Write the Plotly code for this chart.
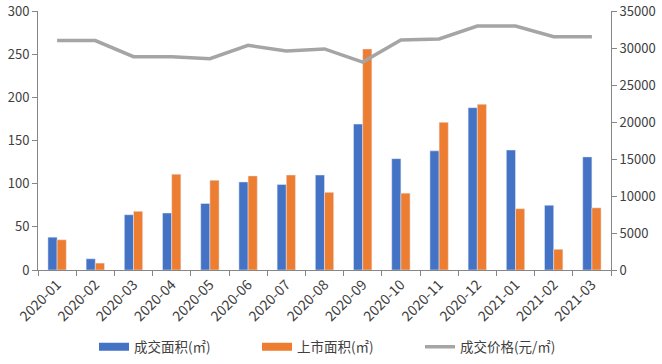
import plotly.graph_objects as go

months = ["2020-01","2020-02","2020-03","2020-04","2020-05","2020-06","2020-07","2020-08",
          "2020-09","2020-10","2020-11","2020-12","2021-01","2021-02","2021-03"]
deal_area = [38, 13, 64, 66, 77, 102, 99, 110, 169, 129, 138, 188, 139, 75, 131]
listed_area = [35, 8, 68, 111, 104, 109, 110, 90, 256, 89, 171, 192, 71, 24, 72]
price = [31000, 31000, 28830, 28830, 28560, 30360, 29600, 29870, 28100, 31080, 31220,
         32970, 32970, 31530, 31530]
names = ["成交面积(㎡)", "上市面积(㎡)", "成交价格(元/㎡)"]
colors = ["#4472C4", "#ED7D31", "#A5A5A5"]

font = "Microsoft YaHei, Noto Sans CJK SC, sans-serif"
txt = "#404040"
axc = "#868686"
W, H = 662, 364

fig = go.Figure()
fig.add_trace(go.Bar(x=months, y=deal_area, name=names[0], marker_color=colors[0],
                     showlegend=False, legendgroup="a"))
fig.add_trace(go.Bar(x=months, y=listed_area, name=names[1], marker_color=colors[1],
                     showlegend=False, legendgroup="b"))
fig.add_trace(go.Scatter(x=months, y=price, name=names[2], yaxis="y2", mode="lines",
                         line=dict(color=colors[2], width=3.5), legend="legend3"))
# legend swatches (wide rectangles as in the reference)
fig.add_trace(go.Scatter(x=[None], y=[None], name=names[0], mode="lines", legendgroup="a",
                         line=dict(color=colors[0], width=8), legend="legend"))
fig.add_trace(go.Scatter(x=[None], y=[None], name=names[1], mode="lines", legendgroup="b",
                         line=dict(color=colors[1], width=8), legend="legend2"))

def leg(px):
    return dict(orientation="h", x=px / W, xref="container", xanchor="left",
                y=17 / H, yref="container", yanchor="middle",
                font=dict(size=13.5, color=txt), bgcolor="rgba(0,0,0,0)")

fig.update_layout(
    width=W, height=H,
    margin=dict(l=38, r=51, t=11, b=94, autoexpand=False),
    paper_bgcolor="white", plot_bgcolor="white",
    font=dict(family=font, size=12, color=txt),
    barmode="group", bargap=0.52, bargroupgap=0,
    showlegend=True,
    legend=leg(94), legend2=leg(257), legend3=leg(420),
    xaxis=dict(type="category", tickangle=-45, showline=True, linecolor=axc, linewidth=1,
               ticks="outside", tickcolor=axc, ticklen=5, tickson="boundaries",
               showgrid=False, automargin=False, tickfont=dict(size=14, color=txt)),
    yaxis=dict(range=[0, 300], dtick=50, showline=True, linecolor=axc, ticks="outside",
               tickcolor=axc, ticklen=5, showgrid=False, zeroline=False, automargin=False,
               tickfont=dict(size=13, color=txt)),
    yaxis2=dict(range=[0, 35000], dtick=5000, tickformat="d", overlaying="y", side="right",
                showline=True, linecolor=axc, ticks="outside", tickcolor=axc, ticklen=5,
                showgrid=False, zeroline=False, automargin=False,
                tickfont=dict(size=13, color=txt)),
)

fig.write_html("out.html", post_script="document.body.style.margin='0';",
               config={"displayModeBar": False})
